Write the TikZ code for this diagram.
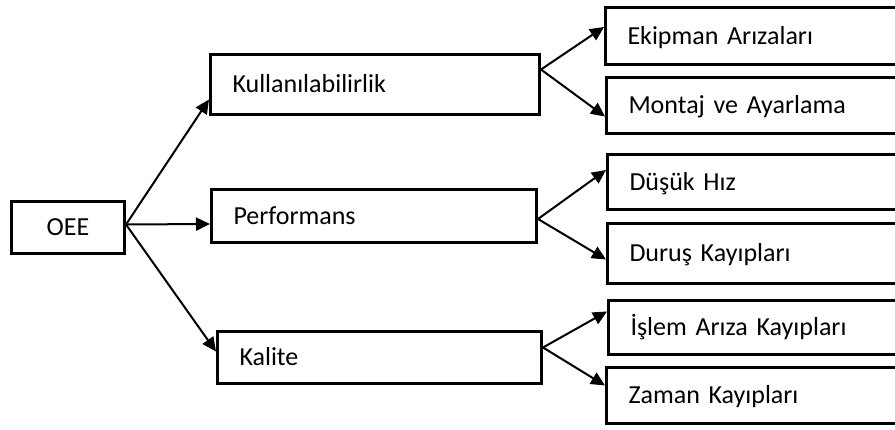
\documentclass[tikz,border=0pt]{standalone}
\usepackage{fontspec}
\setmainfont{Carlito}
\usetikzlibrary{arrows.meta}
\tikzset{
	box/.style={draw, line width=3pt, rectangle, inner xsep=22pt, inner ysep=0pt, anchor=north west, align=left, text height=17pt, text depth=0pt, font=\fontsize{26}{30}\selectfont},
	link/.style={line width=2pt, -{Triangle[length=14pt,width=13pt]}}
}

\begin{document}
\begin{tikzpicture}[x=1pt, y=-1pt]
			%%%%% START %%%%%
			
			\useasboundingbox (0, 0) rectangle (895, 430);
			\clip (0, 0) rectangle (895, 430);
			
			\node[box, align=center, inner xsep=0pt, minimum width=113pt, minimum height=52pt] (oee) at (10, 200) {OEE};
			
			\node[box, text width=285pt, minimum height=60pt] (kul) at (209, 53) {Kullanılabilirlik};
			\node[box, text width=281pt, minimum height=53pt] (perf) at (210, 188) {Performans};
			\node[box, text width=280pt, minimum height=52pt] (kal) at (216, 330) {Kalite};
			
			\node[box, text width=270pt, minimum height=57pt] (ekip) at (604, 6) {Ekipman Arızaları};
			\node[box, text width=270pt, minimum height=56pt] (montaj) at (605, 76) {Montaj ve Ayarlama};
			\node[box, text width=270pt, minimum height=55pt] (dusuk) at (606, 153) {Düşük Hız};
			\node[box, text width=270pt, minimum height=60pt] (durus) at (606, 222) {Duruş Kayıpları};
			\node[box, text width=270pt, minimum height=54pt] (islem) at (607, 299) {İşlem Arıza Kayıpları};
			\node[box, text width=270pt, minimum height=56pt] (zaman) at (605, 366) {Zaman Kayıpları};
			
			\draw[link] ([yshift=3pt]oee.east) -- ([yshift=-15pt]kul.west);
			\draw[link] ([yshift=3pt]oee.east) -- ([yshift=-8pt]perf.west);
			\draw[link] ([yshift=3pt]oee.east) -- ([yshift=6pt]kal.west);
			
			\draw[link] ([yshift=15pt]kul.east) -- ([yshift=9pt]ekip.west);
			\draw[link] ([yshift=15pt]kul.east) -- ([yshift=-11pt]montaj.west);
			
			\draw[link] ([yshift=-3pt]perf.east) -- ([yshift=12pt]dusuk.west);
			\draw[link] ([yshift=-3pt]perf.east) -- ([yshift=-6pt]durus.west);
			
			\draw[link] ([yshift=10pt]kal.east) -- ([yshift=16pt]islem.west);
			\draw[link] ([yshift=10pt]kal.east) -- ([yshift=10pt]zaman.west);
			
			%%%%% END %%%%%
\end{tikzpicture}
\end{document}
